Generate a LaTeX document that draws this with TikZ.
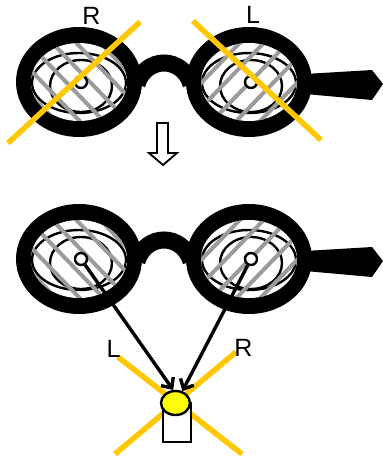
\documentclass[tikz,border=0pt]{standalone}
\usepackage{fontspec}
\setsansfont{Liberation Sans}
\usetikzlibrary{shapes.geometric,arrows.meta}
\definecolor{crossyellow}{RGB}{255,200,0}
\definecolor{headyellow}{RGB}{255,255,0}
\definecolor{hatchgray}{RGB}{155,155,155}
\tikzset{pupil/.style={circle,draw,fill=white,line width=2.4,minimum size=12,inner sep=0},
  eyeline/.style={line width=2.4},
  cross/.style={crossyellow,line width=5.5},
  lbl/.style={font=\sffamily\fontsize{25}{25}\selectfont,inner sep=0}}
% #1 centre x, #2 hatch sign, #3 hatch phase, #4 pupil name
\newcommand{\lens}[4]{%
  \fill (#1,82) ellipse (63 and 55);
  \fill[white] (#1,82) ellipse (48 and 39);
  \begin{scope}
    \clip (#1,82) ellipse (48 and 39);
    \draw[eyeline] (#1,83) ellipse (47 and 30);
    \draw[eyeline] (#1+2,86) ellipse (31 and 26);
    \foreach \k in {-3,...,3}
      \draw[hatchgray,line width=4] ({#1+#3+\k*24-(#2)*58},22) -- ({#1+#3+\k*24+(#2)*58},142);
  \end{scope}
  \node[pupil] (#4) at (#1+2,82) {};}
\newcommand{\specs}[2]{%
  \fill (305,74) -- (372,70) -- (383,84) -- (372,100) -- (305,94) -- cycle;
  \draw[line width=17] (137,84) .. controls (146,56) and (182,56) .. (191,84);
  \lens{79}{1}{-13}{#1}
  \lens{249}{-1}{1}{#2}}

\begin{document}
\begin{tikzpicture}[x=1pt,y=-1pt]
  \useasboundingbox (0,0) rectangle (383,461);
  \begin{scope}[shift={(0,0)}] \specs{topleft}{topright} \end{scope}
  \draw[cross] (8,143) -- (140,22);
  \draw[cross] (193,21) -- (321,140);
  \node[lbl] (rtop) at (91.5,16) {R};
  \node[lbl] (ltop) at (253,14.5) {L};

  \draw[line width=1.8,fill=white] (157,123) -- (168,123) -- (168,153) -- (177,153)
    -- (163,165) -- (149,153) -- (157,153) -- cycle;

  \begin{scope}[shift={(0,177)}] \specs{pupilleft}{pupilright} \end{scope}
  \draw[cross] (118,357) -- (242,454);
  \draw[cross] (236,352) -- (115,454);
  \node[draw,fill=white,line width=2.4,minimum width=28,minimum height=39,inner sep=0] (body) at (177,422.5) {};
  \node[ellipse,draw,fill=headyellow,line width=2.4,minimum width=29,minimum height=24,inner sep=0] (head) at (175.5,403) {};
  \draw[line width=3.4,-{Straight Barb[length=8,width=15]}] (pupilleft) -- (head.100);
  \draw[line width=3.4,-{Straight Barb[length=8,width=15]}] (pupilright) -- (head.60);
  \node[lbl] (lbot) at (113.5,348.5) {L};
  \node[lbl] (rbot) at (243.5,347.5) {R};
\end{tikzpicture}
\end{document}
